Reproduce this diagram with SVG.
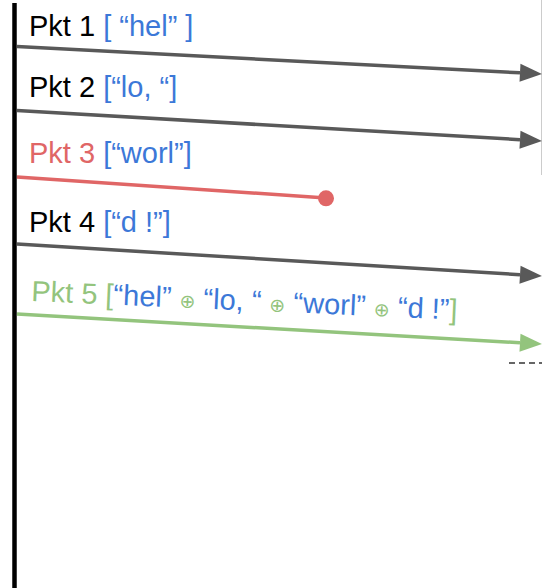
<svg xmlns="http://www.w3.org/2000/svg" width="542" height="588" viewBox="0 0 542 588">
<defs>
<style>
text{font-family:"Liberation Sans",Arial,sans-serif;font-size:29px}
.k{fill:#000}.b{fill:#3c78d8}.r{fill:#e06666}.g{fill:#93c47d}
.o{font-size:19px;font-family:"DejaVu Sans",sans-serif}
.ln{fill:none;stroke-width:3.5}
.gr{stroke:#595959}
</style>
<marker id="ah" markerUnits="userSpaceOnUse" markerWidth="22" markerHeight="18" refX="0" refY="9" orient="auto" overflow="visible"><path d="M0,0 L22,9 L0,18 z" fill="#595959"/></marker>
<marker id="ahg" markerUnits="userSpaceOnUse" markerWidth="22" markerHeight="18" refX="0" refY="9" orient="auto" overflow="visible"><path d="M0,0 L22,9 L0,18 z" fill="#93c47d"/></marker>
</defs>
<rect width="542" height="588" fill="#fff"/>
<g id="timeline">
<line x1="14.5" y1="3" x2="14.5" y2="588" stroke="#000" stroke-width="4.5"/>
<line x1="541.5" y1="0" x2="541.5" y2="175" stroke="#cccccc" stroke-width="1"/>
</g>
<g id="connectors">
<line class="ln gr" x1="17" y1="46.5" x2="520" y2="72.85" marker-end="url(#ah)"/>
<line class="ln gr" x1="17" y1="110.5" x2="520" y2="139.7" marker-end="url(#ah)"/>
<line class="ln" stroke="#e06666" x1="17" y1="177" x2="326" y2="198"/>
<circle cx="326" cy="198.3" r="8" fill="#e06666"/>
<line class="ln gr" x1="17" y1="244" x2="520" y2="274.7" marker-end="url(#ah)"/>
<line class="ln" stroke="#93c47d" x1="17" y1="314" x2="520" y2="342.7" marker-end="url(#ahg)"/>
<line x1="509" y1="363" x2="542" y2="363" stroke="#666" stroke-width="2" stroke-dasharray="6 4"/>
</g>
<g id="pkt1"><text x="29" y="36"><tspan class="k">Pkt 1 </tspan><tspan class="b">[ “hel” ]</tspan></text></g>
<g id="pkt2"><text x="29" y="97"><tspan class="k">Pkt 2 </tspan><tspan class="b">[“lo, “]</tspan></text></g>
<g id="pkt3"><text x="29" y="163"><tspan class="r">Pkt 3 </tspan><tspan class="b">[“worl”]</tspan></text></g>
<g id="pkt4"><text x="29" y="232"><tspan class="k">Pkt 4 </tspan><tspan class="b">[“d !”]</tspan></text></g>
<g id="pkt5"><text x="31" y="301" transform="rotate(2.5 31 301)"><tspan class="g">Pkt 5 [</tspan><tspan class="b">“hel” </tspan><tspan class="g o">⊕</tspan><tspan class="b"> “lo, “ </tspan><tspan class="g o">⊕</tspan><tspan class="b"> “worl” </tspan><tspan class="g o">⊕</tspan><tspan class="b"> “d !”</tspan><tspan class="g">]</tspan></text></g>
</svg>
